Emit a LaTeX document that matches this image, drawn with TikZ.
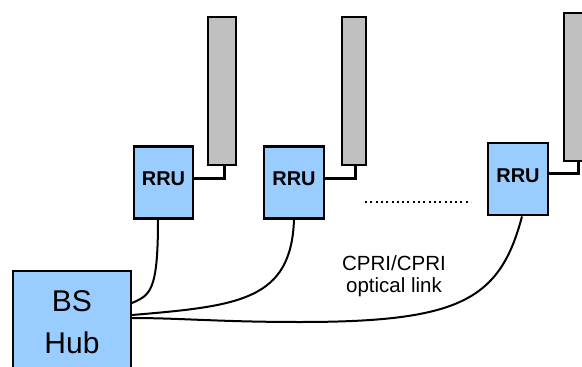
\documentclass[tikz,border=0pt]{standalone}
\usepackage{fontspec}
\setmainfont{Liberation Sans}
\definecolor{boxblue}{HTML}{99CCFF}
\definecolor{antgray}{HTML}{C0C0C0}
\begin{document}
\begin{tikzpicture}[x=1pt,y=-1pt,
  rrubox/.style={draw=black, line width=2.8pt, fill=boxblue, minimum width=59pt, minimum height=72pt, inner sep=0pt, text height=14.5pt, text depth=8pt, font=\fontsize{20}{22}\selectfont\bfseries},
  antbox/.style={draw=black, line width=1.8pt, fill=antgray, inner sep=0pt},
  hubbox/.style={draw=black, line width=2.8pt, fill=boxblue, minimum width=118pt, minimum height=110pt, inner sep=0pt},
  feeder/.style={line width=3pt},
  fiber/.style={line width=2pt},
]
\useasboundingbox (0,0) rectangle (582,367);
% antennas
\node[antbox, minimum width=28pt, minimum height=148pt] (ant1) at (222,91) {};
\node[antbox, minimum width=24pt, minimum height=148pt] (ant2) at (354,91) {};
\node[antbox, minimum width=30pt, minimum height=148pt] (ant3) at (579,87) {};
% RRUs
\node[rrubox] (rru1) at (163.5,182.5) {RRU};
\node[rrubox, minimum width=60pt] (rru2) at (294,182.5) {RRU};
\node[rrubox, minimum width=60pt] (rru3) at (518,179) {RRU};
% hub
\node[hubbox] (hub) at (72,326) {};
\node[align=center, font=\fontsize{30}{42}\selectfont, inner sep=0pt] (hubtext) at (72,322) {BS\\Hub};
% feeders
\coordinate (f1) at (224,178);
\coordinate (f2) at (355,178);
\coordinate (f3) at (578,173);
\draw[feeder] (rru1.east |- f1) -- (f1) -- (f1 |- ant1.south);
\draw[feeder] (f1) -- ++(0,2);
\draw[feeder] (rru2.east |- f2) -- (f2) -- (f2 |- ant2.south);
\draw[feeder] (f2) -- ++(0,2);
\draw[feeder] (rru3.east |- f3) -- (f3) -- (f3 |- ant3.south);
\draw[feeder] (f3) -- ++(0,2);
% dots
\coordinate (d1) at (365,202);
\coordinate (d2) at (471,202);
\draw[line width=2pt, dash pattern=on 2pt off 3.3pt] (d1) -- (d2);
% fibers
\coordinate (h1) at (132,303);
\coordinate (h2) at (132,315);
\coordinate (h3) at (132,318);
\draw[fiber] ([xshift=-5.5pt]rru1.south) .. controls (158,292) and (150,295) .. (h1);
\draw[fiber] (rru2.south) .. controls (291,300) and (240,306) .. (h2);
\draw[fiber] ([xshift=4pt]rru3.south) .. controls (500,300) and (460,322) .. (300,322) .. controls (220,322) and (180,318) .. (h3);
% label
\node[align=center, font=\fontsize{20.5}{22.5}\selectfont, inner sep=0pt] (lbl) at (394,276) {CPRI/CPRI\\optical link};
\end{tikzpicture}
\end{document}
